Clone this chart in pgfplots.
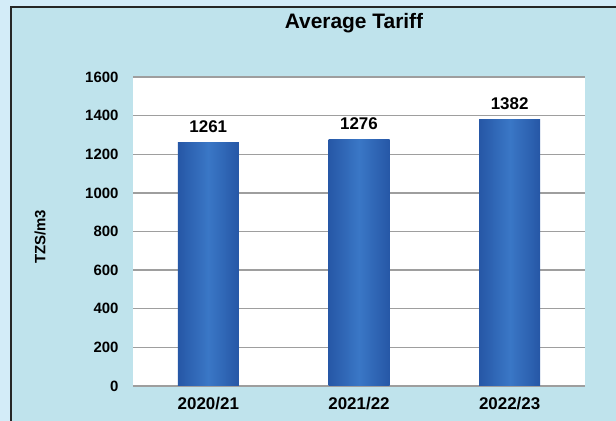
\documentclass[border=0pt]{standalone}
\usepackage{pgfplots}
\pgfplotsset{compat=1.18}
\usepackage{fontspec}
\setmainfont{Liberation Sans}
\definecolor{outerbg}{HTML}{D3ECF8}
\definecolor{panelbg}{HTML}{BFE3EC}
\definecolor{barmid}{HTML}{3A77C6}
\definecolor{baredge}{HTML}{2657A6}
\definecolor{gridgray}{HTML}{9E9E9E}

\begin{document}
\begin{tikzpicture}
  % page background and framed panel
  \useasboundingbox (0bp,0bp) rectangle (616bp,421bp);
  \fill[outerbg] (0bp,0bp) rectangle (616bp,421bp);
  \fill[panelbg] (11bp,0bp) rectangle (616bp,414bp);
  \draw[line width=1.5bp, black!85] (11bp,0bp) -- (11bp,414bp) -- (616bp,414bp);
  \fill[white] (133bp,35bp) rectangle (585bp,344bp);

  \begin{axis}[
      at={(133bp,35bp)}, anchor=south west,
      scale only axis,
      width=452bp, height=309bp,
      xmin=-0.5, xmax=2.5,
      ymin=0, ymax=1600,
      ytick={0,200,...,1600},
      xtick={0,1,2},
      xticklabels={2020/21,2021/22,2022/23},
      ymajorgrids,
      grid style={gridgray, line width=1.4bp},
      axis line style={draw=none},
      major tick length=0pt,
      no markers,
      /pgf/number format/assume math mode=true,
      /pgf/number format/1000 sep={},
      yticklabel style={font=\fontsize{15}{18}\selectfont\bfseries, xshift=-11bp},
      xticklabel style={font=\fontsize{17}{20}\selectfont\bfseries, yshift=-8bp},
      clip=false,
      every axis plot/.append style={
        ybar, bar width=61bp, bar shift=0pt, draw=none,
        left color=baredge, right color=baredge, middle color=barmid,
        nodes near coords,
        nodes near coords style={font=\fontsize{17}{20}\selectfont\bfseries, text=black, yshift=6bp},
      },
    ]
    \addplot coordinates {(0,1261)};
    \addplot coordinates {(1,1276)};
    \addplot coordinates {(2,1382)};
  \end{axis}

  \node[font=\fontsize{21}{25}\selectfont\bfseries, anchor=base] at (354bp,392bp) {Average Tariff};
  \node[font=\fontsize{15}{18}\selectfont\bfseries, rotate=90] at (40bp,184bp) {TZS/m3};
\end{tikzpicture}
\end{document}
